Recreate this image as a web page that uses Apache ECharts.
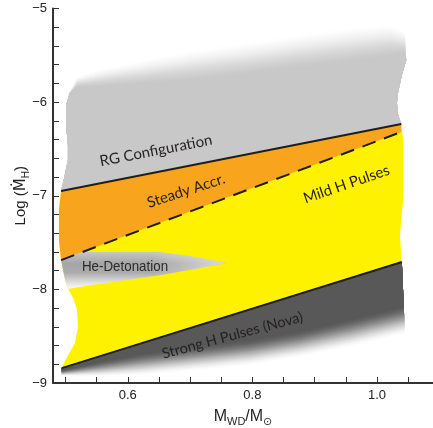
<!DOCTYPE html>
<html><head><meta charset="utf-8">
<script src="https://cdn.jsdelivr.net/npm/echarts@6/dist/echarts.min.js"></script>
<style>html,body{margin:0;padding:0;background:#fff}#c{width:433px;height:428px}</style>
</head><body><div id="c"></div>
<script>
// ---------- axes ----------
const xRange = [0.48, 1.09];
const yRange = [-9, -5];
const xTickValues = [0.5, 0.55, 0.6, 0.65, 0.7, 0.75, 0.8, 0.85, 0.9, 0.95, 1.0, 1.05];
const xTickLabels = [0.6, 0.8, 1.0];
const yTickValues = [-9, -8.8, -8.6, -8.4, -8.2, -8, -7.8, -7.6, -7.4, -7.2, -7, -6.8, -6.6, -6.4, -6.2, -6, -5.8, -5.6, -5.4, -5.2, -5];
const yTickLabels = [-9, -8, -7, -6, -5];

// ---------- boundary lines ----------
const rgLine = [[0.493, -6.950], [1.039, -6.234]];
const steadyLine = [[0.493, -7.687], [1.039, -6.319]];
const novaLine = [[0.494, -8.841], [1.040, -7.708]];

// ---------- RG configuration region ----------
const rgRightEdge = [[1.034, -6.138], [1.032, -6.010], [1.034, -5.892], [1.040, -5.710], [1.047, -5.550]];
const rgSolidTop = [[1.045, -5.497], [1.021, -5.529], [0.957, -5.593], [0.877, -5.657], [0.796, -5.721], [0.716, -5.785], [0.636, -5.817], [0.555, -5.849], [0.519, -5.849]];
const rgFadeTop = [[1.045, -5.230], [1.021, -5.144], [0.957, -5.176], [0.877, -5.251], [0.796, -5.337], [0.716, -5.411], [0.636, -5.518], [0.555, -5.636], [0.519, -5.721]];
const rgLeftEdge = [[0.507, -5.903], [0.501, -6.031], [0.501, -6.245], [0.504, -6.458], [0.504, -6.619], [0.498, -6.811]];

// ---------- steady accretion / mild pulses ----------
const orangeLeftEdge = [[0.4896, -7.473], [0.4896, -7.153]];
const yellowRightEdge = [[1.042, -6.405], [1.042, -7.046], [1.037, -7.420]];
const yellowLeftEdge = [[0.5025, -8.723], [0.5153, -8.574], [0.5201, -8.403], [0.5185, -8.221], [0.5137, -8.115], [0.5073, -8.029], [0.5041, -7.997], [0.4993, -7.901], [0.4961, -7.794]];

// ---------- He detonation blob ----------
const heBlob = [[0.493, -7.687], [0.5265, -7.601], [0.5875, -7.601], [0.6517, -7.601], [0.6999, -7.644], [0.7593, -7.718], [0.7160, -7.772], [0.6517, -7.848], [0.5875, -7.911], [0.5394, -7.955], [0.5041, -7.997], [0.4993, -7.901], [0.4961, -7.794]];

// ---------- strong H pulses (nova) region ----------
const novaSolid = [[1.043, -8.168], [0.957, -8.307], [0.877, -8.435], [0.796, -8.531], [0.716, -8.595], [0.620, -8.681], [0.555, -8.766], [0.494, -8.862]];
const novaFade = [[1.045, -8.489], [0.957, -8.627], [0.877, -8.734], [0.796, -8.819], [0.716, -8.873], [0.620, -8.926], [0.555, -8.937], [0.494, -8.926]];

// ---------- labels ----------
const regionLabels = ['RG Configuration', 'Steady Accr.', 'Mild H Pulses', 'He-Detonation', 'Strong H Pulses (Nova)'];
const labelAnchors = [[0.6453, -6.518], [0.6935, -6.947], [0.9511, -6.877], [0.5956, -7.762], [0.768, -8.492]];
const labelAngles = [11, 18, 19, 0, 15];

const TXT = '#231f20';
const GEO = 'Lato, "Open Sans", "DejaVu Sans", sans-serif';
const SANS = '"Liberation Sans", Arial, "DejaVu Sans", sans-serif';

function lerpCurve(a, b, t) {
  return a.map((p, i) => [p[0] + t * (b[i][0] - p[0]), p[1] + t * (b[i][1] - p[1])]);
}
function smooth(t) { return t * t * (3 - 2 * t); }
function grayHex(lo, t) {
  const v = Math.round(lo + (255 - lo) * smooth(t));
  return 'rgb(' + v + ',' + v + ',' + v + ')';
}
function poly(api, pts, fill) {
  return { type: 'polygon', shape: { points: pts.map(p => api.coord(p)) }, style: { fill: fill } };
}

const N = 28;
function rgRender(params, api) {
  const ch = [];
  for (let k = N; k >= 0; k--) {
    const t = k / N;
    const curve = lerpCurve(rgSolidTop, rgFadeTop, t);
    const pts = [...rgLine, ...rgRightEdge, ...curve, ...rgLeftEdge];
    ch.push(poly(api, pts, k === 0 ? 'rgb(200,200,200)' : grayHex(200, (k - 0.5) / N)));
  }
  return { type: 'group', children: ch };
}
function novaRender(params, api) {
  const ch = [];
  for (let k = N; k >= 0; k--) {
    const t = k / N;
    const curve = lerpCurve(novaSolid, novaFade, t);
    const pts = [novaLine[0], novaLine[1], ...curve];
    ch.push(poly(api, pts, k === 0 ? 'rgb(88,88,88)' : grayHex(88, (k - 0.5) / N)));
  }
  return { type: 'group', children: ch };
}
function yellowRender(params, api) {
  const pts = [rgLine[0], rgLine[1], ...yellowRightEdge, novaLine[1], novaLine[0], ...yellowLeftEdge, steadyLine[0], ...orangeLeftEdge];
  return poly(api, pts, '#fff200');
}
function orangeRender(params, api) {
  const pts = [rgLine[0], rgLine[1], steadyLine[1], steadyLine[0], ...orangeLeftEdge];
  return poly(api, pts, '#f8a51d');
}
function heRender(params, api) {
  const base = poly(api, heBlob, new echarts.graphic.LinearGradient(0, 0, 0, 1, [
    { offset: 0, color: '#c6c6c6' }, { offset: 0.3, color: '#a6a6a6' },
    { offset: 0.55, color: '#ababab' }, { offset: 0.85, color: '#e4e4e4' }, { offset: 1, color: '#fafafa' }]));
  const over = poly(api, heBlob, new echarts.graphic.LinearGradient(0, 0, 1, 0, [
    { offset: 0, color: 'rgba(255,255,255,0)' }, { offset: 0.55, color: 'rgba(255,255,255,0)' },
    { offset: 1, color: 'rgba(255,255,255,0.6)' }]));
  return { type: 'group', children: [base, over] };
}
function labelRender(params, api) {
  const i = params.dataIndex;
  const c = api.coord(labelAnchors[i]);
  const isHe = i === 3;
  const size = isHe ? 15 : (i === 4 ? 14.5 : 15);
  const fam = isHe ? SANS : GEO;
  return {
    type: 'text', x: c[0], y: c[1], rotation: labelAngles[i] * Math.PI / 180,
    scaleX: isHe ? 0.89 : 1,
    style: { text: regionLabels[i], fill: isHe ? '#2a2a2a' : TXT, font: size + 'px ' + fam, align: 'center', verticalAlign: 'middle' }
  };
}

const one = [[0.7, -7]];
const chart = echarts.init(document.getElementById('c'), null, { renderer: 'canvas' });
chart.setOption({
  animation: false,
  backgroundColor: '#fff',
  grid: { left: 53, right: 0, top: 8.5, bottom: 45, containLabel: false, outerBoundsMode: 'none' },
  xAxis: {
    type: 'value', min: xRange[0], max: xRange[1],
    name: '{n|M}{s|WD}{n|/M}{s|\u2299}', nameLocation: 'middle', nameGap: 24,
    nameTextStyle: { rich: {
      n: { fontSize: 16, fontFamily: SANS, color: TXT, lineHeight: 20 },
      s: { fontSize: 11, fontFamily: SANS, color: TXT, verticalAlign: 'bottom' } } },
    axisLine: { show: true, onZero: false, lineStyle: { color: '#333', width: 2 } },
    axisTick: { show: true, inside: true, length: 6, customValues: xTickValues, lineStyle: { color: '#333', width: 1 } },
    axisLabel: { customValues: xTickLabels, formatter: v => v.toFixed(1), color: '#222', fontSize: 13, margin: 6, fontFamily: SANS },
    splitLine: { show: false }
  },
  yAxis: {
    type: 'value', min: yRange[0], max: yRange[1],
    name: '{n|Log (}{m|\u1E40}{s|H}{n|)}', nameLocation: 'middle', nameGap: 22, nameMoveOverlap: false,
    nameTextStyle: { rich: {
      n: { fontSize: 15, fontFamily: SANS, color: TXT, lineHeight: 20 },
      m: { fontSize: 15, fontFamily: '"DejaVu Sans", sans-serif', color: TXT, lineHeight: 20 },
      s: { fontSize: 10, fontFamily: SANS, color: TXT, verticalAlign: 'bottom' } } },
    axisLine: { show: true, onZero: false, lineStyle: { color: '#333', width: 2 } },
    axisTick: { show: true, inside: true, length: 6, customValues: yTickValues, lineStyle: { color: '#333', width: 1 } },
    axisLabel: { customValues: yTickLabels, formatter: v => String(v).replace('-', '\u2212'), color: '#222', fontSize: 13, margin: 6, fontFamily: SANS },
    splitLine: { show: false }
  },
  series: [
    { type: 'custom', name: 'RG Configuration', renderItem: rgRender, data: one, z: 1, silent: true },
    { type: 'custom', name: 'Mild H Pulses', renderItem: yellowRender, data: one, z: 2, silent: true },
    { type: 'custom', name: 'Steady Accr.', renderItem: orangeRender, data: one, z: 3, silent: true },
    { type: 'custom', name: 'He-Detonation', renderItem: heRender, data: one, z: 4, silent: true },
    { type: 'custom', name: 'Strong H Pulses', renderItem: novaRender, data: one, z: 4, silent: true },
    { type: 'line', data: rgLine, symbol: 'none', z: 6, silent: true, lineStyle: { color: '#1e1e1e', width: 2 } },
    { type: 'line', data: steadyLine, symbol: 'none', z: 6, silent: true, lineStyle: { color: '#1e1e1e', width: 2, type: [14, 9] } },
    { type: 'line', data: novaLine, symbol: 'none', z: 6, silent: true, lineStyle: { color: '#1e1e1e', width: 2 } },
    { type: 'custom', name: 'labels', renderItem: labelRender, data: labelAnchors, z: 7, silent: true }
  ]
});
</script></body></html>
